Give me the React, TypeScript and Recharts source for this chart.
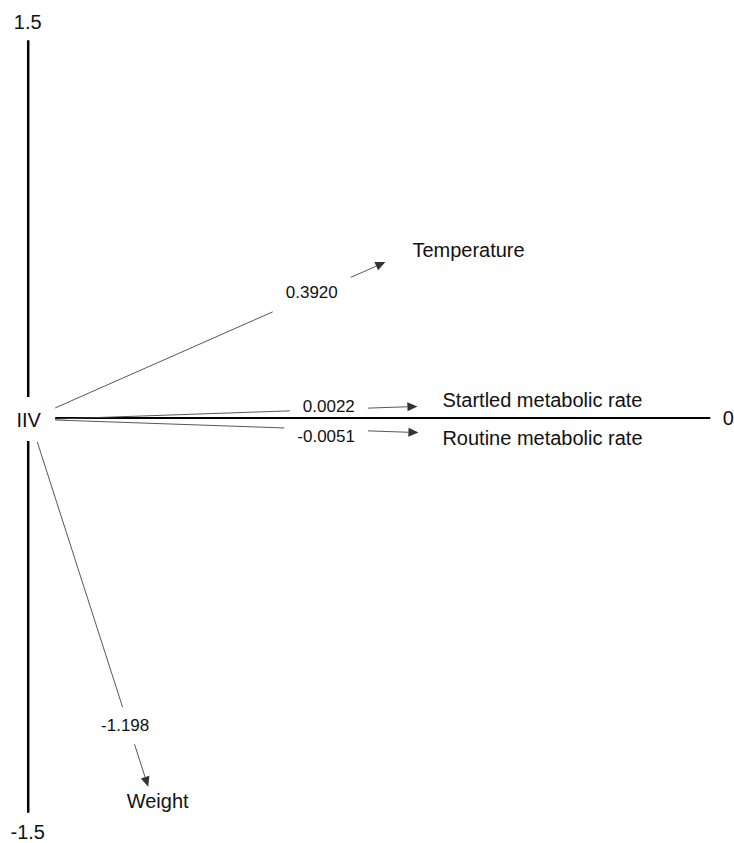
import React from 'react';
import { ComposedChart, XAxis, YAxis, ReferenceLine, ReferenceDot, Scatter } from 'recharts';

// ---- data (diagram units) ----
const variables = ['Temperature', 'Startled metabolic rate', 'Routine metabolic rate', 'Weight'];
const coefficients = ['0.3920', '0.0022', '-0.0051', '-1.198'];
const arrowStartX = [0.107, 0.107, 0.107, 0.036];
const arrowStartY = [0.04, -0.004, -0.008, -0.095];
const arrowEndX = [1.417, 1.544, 1.548, 0.476];
const arrowEndY = [0.619, 0.046, -0.058, -1.464];

const axisTickLabels = ['1.5', '-1.5'];
const axisTopSegment = [1.5, 0.083];
const axisBottomSegment = [-0.091, -1.567];
const originLabel = 'IIV';
const baselineLabel = '0';
const baselineX = [0.107, 2.706];

// ---- styling ----
const FONT = '"Liberation Sans", Arial, Helvetica, sans-serif';
const NAME_SIZE = 20;
const VALUE_SIZE = 17;
const valueLabelStyle = [
  { t: 0.777, dx: 0, dy: -2 },
  { t: 0.7555, dx: 0, dy: -3 },
  { t: 0.746, dx: 0, dy: 7 },
  { t: 0.823, dx: -3.4, dy: 0 },
];
const nameStyle = [
  { dx: 27, dy: -12, anchor: 'start' },
  { dx: 25, dy: -6.5, anchor: 'start' },
  { dx: 24, dy: 5, anchor: 'start' },
  { dx: 9.5, dy: 14, anchor: 'middle' },
];

function textWidth(s: string, size: number) {
  let w = 0;
  for (const c of s) {
    if (c === '.') w += 0.278;
    else if (c === '-') w += 0.333;
    else w += 0.556;
  }
  return w * size;
}

function makeArrowShape(i: number) {
  return (props: any) => {
    const { x1, y1, x2, y2 } = props;
    const dx = x2 - x1;
    const dy = y2 - y1;
    const len = Math.hypot(dx, dy);
    const ux = dx / len;
    const uy = dy / len;
    const vs = valueLabelStyle[i];
    const ns = nameStyle[i];
    const lx = x1 + dx * vs.t;
    const ly = y1 + dy * vs.t;
    const hw = textWidth(coefficients[i], VALUE_SIZE) / 2 + 13;
    const hh = 18.5;
    const sx = Math.abs(ux) > 1e-6 ? hw / Math.abs(ux) : Infinity;
    const sy = Math.abs(uy) > 1e-6 ? hh / Math.abs(uy) : Infinity;
    const s = Math.min(sx, sy);
    const g1x = lx - ux * s;
    const g1y = ly - uy * s;
    const g2x = lx + ux * s;
    const g2y = ly + uy * s;
    const hl = 10;
    const hwid = 4.5;
    const bx = x2 - ux * hl;
    const by = y2 - uy * hl;
    const px = -uy;
    const py = ux;
    const pts = `${x2},${y2} ${bx + px * hwid},${by + py * hwid} ${bx - px * hwid},${by - py * hwid}`;
    return (
      <g>
        <line x1={x1} y1={y1} x2={g1x} y2={g1y} stroke="#444" strokeWidth={0.9} />
        <line x1={g2x} y1={g2y} x2={bx} y2={by} stroke="#444" strokeWidth={0.9} />
        <polygon points={pts} fill="#333" />
        <text
          x={lx + vs.dx}
          y={ly + vs.dy}
          textAnchor="middle"
          dominantBaseline="central"
          fontFamily={FONT}
          fontSize={VALUE_SIZE}
          fill="#111"
        >
          {coefficients[i]}
        </text>
        <text
          x={x2 + ns.dx}
          y={y2 + ns.dy}
          textAnchor={ns.anchor as any}
          dominantBaseline="central"
          fontFamily={FONT}
          fontSize={NAME_SIZE}
          fill="#111"
        >
          {variables[i]}
        </text>
      </g>
    );
  };
}

const axisTopShape = (props: any) => {
  const { x1, y1, x2, y2 } = props;
  return (
    <g>
      <line x1={x1} y1={y1} x2={x2} y2={y2} stroke="#000" strokeWidth={2.5} />
      <text x={x1 - 0.5} y={y1 - 18} textAnchor="middle" dominantBaseline="central" fontFamily={FONT} fontSize={NAME_SIZE} fill="#111">
        {axisTickLabels[0]}
      </text>
    </g>
  );
};

const axisBottomShape = (props: any) => {
  const { x1, y1, x2, y2 } = props;
  return (
    <g>
      <line x1={x1} y1={y1} x2={x2} y2={y2} stroke="#000" strokeWidth={2.5} />
      <text x={x2 - 0.5} y={y2 + 19} textAnchor="middle" dominantBaseline="central" fontFamily={FONT} fontSize={NAME_SIZE} fill="#111">
        {axisTickLabels[1]}
      </text>
    </g>
  );
};

const baselineShape = (props: any) => {
  const { x1, y1, x2, y2 } = props;
  return (
    <g>
      <line x1={x1} y1={y1} x2={x2} y2={y2} stroke="#000" strokeWidth={2} />
      <text x={x2 + 18} y={y2} textAnchor="middle" dominantBaseline="central" fontFamily={FONT} fontSize={NAME_SIZE} fill="#111">
        {baselineLabel}
      </text>
    </g>
  );
};

const originShape = (props: any) => {
  const { cx, cy } = props;
  return (
    <text x={cx + 0.5} y={cy + 2} textAnchor="middle" dominantBaseline="central" fontFamily={FONT} fontSize={NAME_SIZE} fill="#111">
      {originLabel}
    </text>
  );
};

const tipPoints = arrowEndX.map((x, i) => ({ x, y: arrowEndY[i] }));

export default function App() {
  return (
    <div style={{ position: 'absolute', left: 0, top: 0, background: '#fff' }}>
      <ComposedChart width={734} height={843} margin={{ top: 15, right: 0, bottom: 22, left: 3 }}>
        <XAxis type="number" dataKey="x" domain={[-0.1, 2.8]} hide allowDataOverflow />
        <YAxis type="number" dataKey="y" domain={[-1.6, 1.6]} hide allowDataOverflow />
        <Scatter data={tipPoints} isAnimationActive={false} shape={() => <g />} />
        <ReferenceLine
          segment={[{ x: 0, y: axisTopSegment[0] }, { x: 0, y: axisTopSegment[1] }]}
          shape={axisTopShape}
          ifOverflow="visible"
        />
        <ReferenceLine
          segment={[{ x: 0, y: axisBottomSegment[0] }, { x: 0, y: axisBottomSegment[1] }]}
          shape={axisBottomShape}
          ifOverflow="visible"
        />
        <ReferenceLine
          segment={[{ x: baselineX[0], y: 0 }, { x: baselineX[1], y: 0 }]}
          shape={baselineShape}
          ifOverflow="visible"
        />
        {variables.map((v, i) => (
          <ReferenceLine
            key={v}
            segment={[
              { x: arrowStartX[i], y: arrowStartY[i] },
              { x: arrowEndX[i], y: arrowEndY[i] },
            ]}
            shape={makeArrowShape(i)}
            ifOverflow="visible"
          />
        ))}
        <ReferenceDot x={0} y={0} r={0} shape={originShape} ifOverflow="visible" />
      </ComposedChart>
    </div>
  );
}
